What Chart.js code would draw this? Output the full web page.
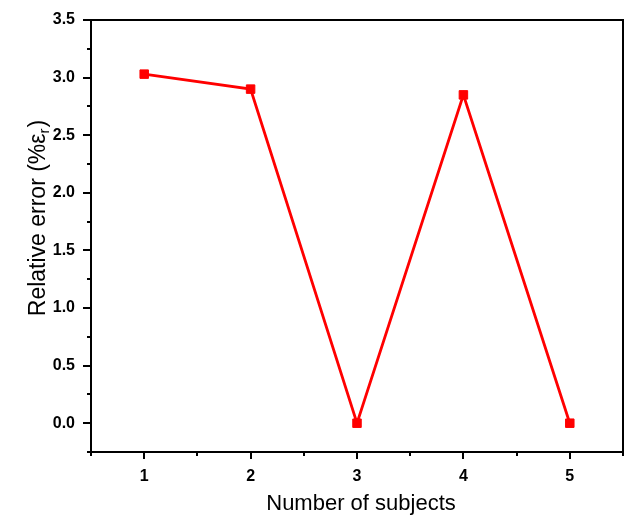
<!DOCTYPE html>
<html>
<head>
<meta charset="utf-8">
<script src="https://cdn.jsdelivr.net/npm/chart.js@4/dist/chart.umd.min.js"></script>
<style>
  html, body { margin: 0; padding: 0; background: #fff; }
  #wrap { width: 630px; height: 517px; }
</style>
</head>
<body>
<div id="wrap"><canvas id="chart" width="630" height="517"></canvas></div>
<script>
// data
const subjects = [1, 2, 3, 4, 5];
const relError = [3.03, 2.90, 0.00, 2.85, 0.00];
const xTicks = [1, 2, 3, 4, 5];
const xMinor = [0.5, 1.5, 2.5, 3.5, 4.5, 5.5];
const yTicks = [0, 0.5, 1.0, 1.5, 2.0, 2.5, 3.0, 3.5];
const yMinor = [-0.25, 0.25, 0.75, 1.25, 1.75, 2.25, 2.75, 3.25];

const FONT = '"Liberation Sans", Arial, "DejaVu Sans", sans-serif';

const frameAndTicks = {
    id: 'frameAndTicks',
    afterDraw(chart) {
        const ctx = chart.ctx;
        const a = chart.chartArea;
        const xs = chart.scales.x, ys = chart.scales.y;
        ctx.save();
        ctx.strokeStyle = '#000';
        ctx.lineWidth = 2;
        ctx.lineCap = 'butt';

        // box
        ctx.strokeRect(a.left, a.top, a.right - a.left, a.bottom - a.top);

        // y ticks
        ctx.beginPath();
        yTicks.forEach(v => {
            const y = Math.round(ys.getPixelForValue(v));
            ctx.moveTo(a.left - 8, y); ctx.lineTo(a.left, y);
        });
        yMinor.forEach(v => {
            const y = Math.round(ys.getPixelForValue(v));
            ctx.moveTo(a.left - 4, y); ctx.lineTo(a.left, y);
        });
        // x ticks
        xTicks.forEach(v => {
            const x = Math.round(xs.getPixelForValue(v));
            ctx.moveTo(x, a.bottom); ctx.lineTo(x, a.bottom + 7);
        });
        xMinor.forEach(v => {
            const x = Math.round(xs.getPixelForValue(v));
            ctx.moveTo(x, a.bottom); ctx.lineTo(x, a.bottom + 4);
        });
        ctx.stroke();

        // axis titles
        ctx.fillStyle = '#000';
        ctx.font = '22px ' + FONT;
        ctx.textAlign = 'center';
        ctx.textBaseline = 'alphabetic';
        ctx.fillText('Number of subjects', (a.left + a.right) / 2 + 4, 510);

        // y title with subscript r
        const main = 'Relative error (%ε';
        const sub = 'r';
        const tail = ')';
        ctx.font = '23px ' + FONT;
        const wMain = ctx.measureText(main).width;
        const wTail = ctx.measureText(tail).width;
        ctx.font = '15px ' + FONT;
        const wSub = ctx.measureText(sub).width;
        const total = wMain + wSub + wTail + 1;
        ctx.translate(45, 218);
        ctx.rotate(-Math.PI / 2);
        ctx.textAlign = 'left';
        let px = -total / 2;
        ctx.font = '23px ' + FONT;
        ctx.fillText(main, px, 0);
        px += wMain;
        ctx.font = '15px ' + FONT;
        ctx.fillText(sub, px, 4);
        px += wSub + 1;
        ctx.font = '23px ' + FONT;
        ctx.fillText(tail, px, 0);
        ctx.restore();
    }
};

new Chart(document.querySelector('#chart'), {
    type: 'line',
    data: {
        datasets: [{
            label: 'Relative error',
            data: subjects.map((s, i) => ({ x: s, y: relError[i] })),
            borderColor: '#ff0000',
            backgroundColor: '#ff0000',
            borderWidth: 2.8,
            pointStyle: 'rect',
            pointRadius: 6,
            pointBorderWidth: 1,
            tension: 0,
        }]
    },
    options: {
        responsive: false,
        animation: false,
        layout: { padding: { top: 20, right: 3, left: 0, bottom: 0 } },
        plugins: { legend: { display: false }, tooltip: { enabled: false } },
        scales: {
            x: {
                type: 'linear',
                min: 0.5,
                max: 5.5,
                afterBuildTicks: (s) => { s.ticks = xTicks.map(v => ({ value: v })); },
                afterFit: (s) => { s.height = 65; },
                grid: { display: true, drawOnChartArea: false, drawTicks: true, tickLength: 7, tickColor: 'rgba(0,0,0,0)' },
                border: { display: false },
                ticks: {
                    padding: 8,
                    color: '#000',
                    font: { family: FONT, size: 16, weight: 'bold' },
                    maxRotation: 0,
                    callback: (v) => String(v),
                }
            },
            y: {
                type: 'linear',
                min: -0.25,
                max: 3.5,
                afterBuildTicks: (s) => { s.ticks = yTicks.map(v => ({ value: v })); },
                afterFit: (s) => { s.width = 91; },
                grid: { display: true, drawOnChartArea: false, drawTicks: true, tickLength: 8, tickColor: 'rgba(0,0,0,0)' },
                border: { display: false },
                ticks: {
                    padding: 8,
                    color: '#000',
                    font: { family: FONT, size: 16, weight: 'bold' },
                    callback: (v) => v.toFixed(1),
                }
            }
        }
    },
    plugins: [frameAndTicks]
});
</script>
</body>
</html>
